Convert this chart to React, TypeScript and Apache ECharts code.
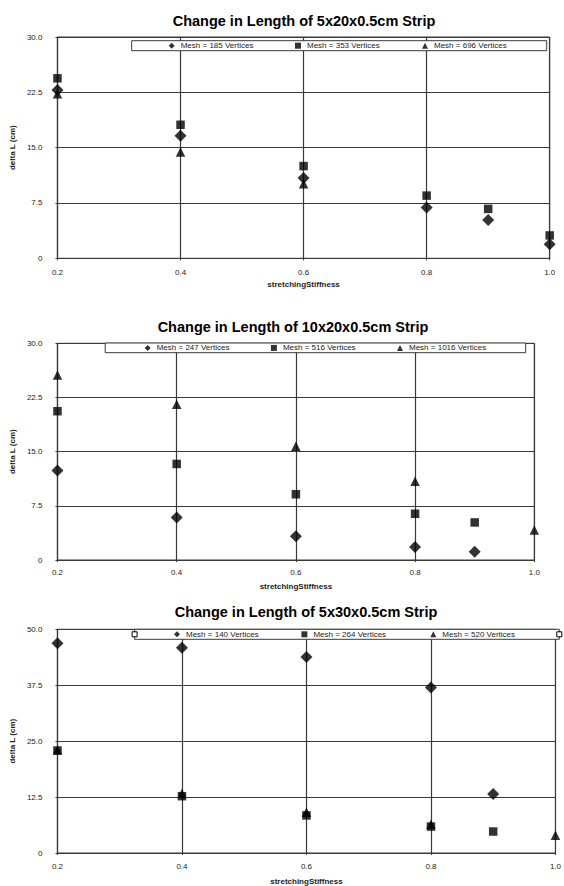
import React, { useEffect, useRef } from "react";
import * as echarts from "echarts";

// ---------- data ----------
const xValues = [0.2, 0.4, 0.6, 0.8, 0.9, 1.0];

const strip1Title = "Change in Length of 5x20x0.5cm Strip";
const strip1Names = ["Mesh = 185 Vertices", "Mesh = 353 Vertices", "Mesh = 696 Vertices"];
const strip1Diamond = [22.8, 16.6, 10.9, 6.9, 5.2, 1.9];
const strip1Square = [24.4, 18.1, 12.5, 8.5, 6.7, 3.1];
const strip1Triangle = [22.3, 14.4, 10.1, null, null, null];

const strip2Title = "Change in Length of 10x20x0.5cm Strip";
const strip2Names = ["Mesh = 247 Vertices", "Mesh = 516 Vertices", "Mesh = 1016 Vertices"];
const strip2Diamond = [12.4, 5.9, 3.3, 1.8, 1.15, null];
const strip2Square = [20.6, 13.3, 9.1, 6.4, 5.2, null];
const strip2Triangle = [25.6, 21.55, 15.75, 10.9, null, 4.15];

const strip3Title = "Change in Length of 5x30x0.5cm Strip";
const strip3Names = ["Mesh = 140 Vertices", "Mesh = 264 Vertices", "Mesh = 520 Vertices"];
const strip3Diamond = [46.9, 45.9, 43.8, 37.0, 13.2, null];
const strip3Square = [22.9, 12.7, 8.4, 5.9, 4.8, null];
const strip3Triangle = [23.1, 13.3, 9.1, 6.4, null, 3.95];

const xAxisName = "stretchingStiffness";
const yAxisName = "delta L (cm)";

// ---------- layout ----------
const FONT = "'Liberation Sans', Arial, Helvetica, sans-serif";
const LINE = "#3a3a3a";
const TEXT = "#222";

const panels = [
  {
    title: strip1Title, names: strip1Names,
    values: [strip1Diamond, strip1Square, strip1Triangle],
    yMax: 30, yInterval: 7.5,
    titleX: 304, titleY: 21,
    grid: { left: 57.3, right: 14.3, top: 37, height: 221.3 },
    legendX: [171.7, 298, 425], legendY: 45.7,
    box: { x: 131.7, y: 40.7, w: 415, h: 10 },
    xLabelMargin: 10, xNameGap: 22, handles: false,
  },
  {
    title: strip2Title, names: strip2Names,
    values: [strip2Diamond, strip2Square, strip2Triangle],
    yMax: 30, yInterval: 7.5,
    titleX: 293, titleY: 327,
    grid: { left: 51.6, right: 29.7, top: 343.3, height: 216.7 },
    legendX: [147.7, 273.9, 400], legendY: 347.9,
    box: { x: 105.2, y: 343, w: 420.5, h: 9.7 },
    xLabelMargin: 8, xNameGap: 22, handles: false,
  },
  {
    title: strip3Title, names: strip3Names,
    values: [strip3Diamond, strip3Square, strip3Triangle],
    yMax: 50, yInterval: 12.5,
    titleX: 306, titleY: 612,
    grid: { left: 55.3, right: 4.7, top: 629.3, height: 224 },
    legendX: [177, 304.4, 433.3], legendY: 634.3,
    box: { x: 134.6, y: 629.3, w: 424.7, h: 10 },
    xLabelMargin: 9, xNameGap: 24, handles: true,
  },
];

const symbols = ["diamond", "rect", "triangle"];
const symbolSizes = [12, 8.5, 9.5];
const zs = [5, 4, 3];

function buildOption() {
  const title: any[] = [];
  const grid: any[] = [];
  const xAxis: any[] = [];
  const yAxis: any[] = [];
  const legend: any[] = [];
  const series: any[] = [];
  const graphic: any[] = [];

  panels.forEach((p, i) => {
    title.push({
      text: p.title,
      left: p.titleX,
      top: p.titleY,
      textAlign: "center",
      textVerticalAlign: "middle",
      padding: 0,
      textStyle: { fontFamily: FONT, fontSize: 14.5, fontWeight: "bold", color: "#000" },
    });
    grid.push({
      ...p.grid,
      show: true,
      borderColor: LINE,
      borderWidth: 1,
      backgroundColor: "#fff",
      containLabel: false,
    });
    xAxis.push({
      type: "value",
      gridIndex: i,
      min: 0.2,
      max: 1.0,
      interval: 0.2,
      name: xAxisName,
      nameLocation: "middle",
      nameGap: p.xNameGap,
      nameTextStyle: { fontFamily: FONT, fontSize: 8, fontWeight: "bold", color: TEXT },
      axisLine: { show: true, lineStyle: { color: LINE, width: 1.2 } },
      axisTick: { show: true, length: 2, lineStyle: { color: LINE } },
      axisLabel: {
        fontFamily: FONT, fontSize: 8, color: TEXT, margin: p.xLabelMargin,
        formatter: (v: number) => v.toFixed(1),
      },
      splitLine: { show: true, lineStyle: { color: LINE, width: 1.2 } },
    });
    yAxis.push({
      type: "value",
      gridIndex: i,
      min: 0,
      max: p.yMax,
      interval: p.yInterval,
      name: yAxisName,
      nameLocation: "middle",
      nameGap: 36,
      nameTextStyle: { fontFamily: FONT, fontSize: 8, fontWeight: "bold", color: TEXT },
      axisLine: { show: true, lineStyle: { color: LINE, width: 1.2 } },
      axisTick: { show: true, length: 2, lineStyle: { color: LINE } },
      axisLabel: {
        fontFamily: FONT, fontSize: 8, color: TEXT, margin: 15,
        formatter: (v: number) => (v === 0 ? "0" : v.toFixed(1)),
      },
      splitLine: { show: true, lineStyle: { color: LINE, width: 1.2 } },
    });

    p.names.forEach((name, k) => {
      legend.push({
        data: [name],
        left: p.legendX[k] - 3,
        top: p.legendY - 4,
        padding: 0,
        itemWidth: 6,
        itemHeight: 6,
        selectedMode: false,
        textStyle: { fontFamily: FONT, fontSize: 8, color: TEXT, padding: [0, 0, 0, 1] },
        z: 6,
      });
      const vals = p.values[k];
      const data: number[][] = [];
      vals.forEach((v, j) => {
        if (v !== null && v !== undefined) data.push([xValues[j], v as number]);
      });
      series.push({
        type: "scatter",
        name,
        xAxisIndex: i,
        yAxisIndex: i,
        symbol: symbols[k],
        symbolSize: symbolSizes[k],
        itemStyle: { color: "#000" },
        z: zs[k],
        data,
      });
    });

    graphic.push({
      type: "rect",
      z: 1,
      shape: { x: p.box.x, y: p.box.y, width: p.box.w, height: p.box.h },
      style: { fill: "#fff", stroke: LINE, lineWidth: 1 },
    });
    if (p.handles) {
      [p.box.x, p.box.x + p.box.w].forEach((hx) => {
        graphic.push({
          type: "rect",
          z: 7,
          shape: { x: hx - 2.5, y: p.legendY - 2.5, width: 5, height: 5 },
          style: { fill: "#fff", stroke: "#000", lineWidth: 1 },
        });
      });
    }
  });

  return {
    animation: false,
    backgroundColor: "#fff",
    title,
    grid,
    xAxis,
    yAxis,
    legend,
    series,
    graphic,
  };
}

export default function App() {
  const ref = useRef<HTMLDivElement>(null);
  useEffect(() => {
    if (!ref.current) return;
    const chart = echarts.init(ref.current, null, { renderer: "svg" });
    chart.setOption(buildOption() as any);
    return () => chart.dispose();
  }, []);
  return (
    <div
      ref={ref}
      style={{ position: "fixed", left: 0, top: 0, width: 564, height: 886, background: "#fff" }}
    />
  );
}
